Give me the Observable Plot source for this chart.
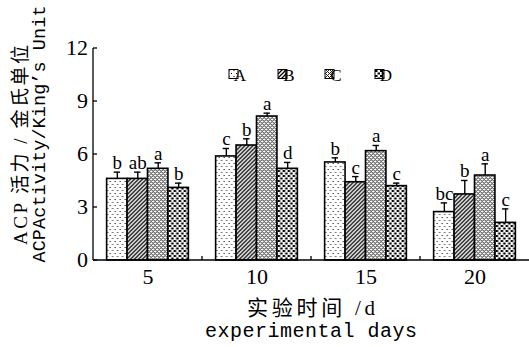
<!DOCTYPE html>
<html><head><meta charset="utf-8">
<script src="https://cdn.jsdelivr.net/npm/d3@7"></script>
<script src="https://cdn.jsdelivr.net/npm/@observablehq/plot@0.6"></script>
<style>body{margin:0;background:#fff}</style>
</head><body><div id="chart"></div>
<script>
const days = ["5", "10", "15", "20"];
const series = ["A", "B", "C", "D"];
const valuesA = [4.62, 5.89, 5.55, 2.74];
const valuesB = [4.62, 6.51, 4.43, 3.74];
const valuesC = [5.19, 8.15, 6.19, 4.81];
const valuesD = [4.11, 5.19, 4.21, 2.13];
const errA = [0.38, 0.45, 0.26, 0.52];
const errB = [0.38, 0.38, 0.32, 0.79];
const errC = [0.34, 0.19, 0.32, 0.66];
const errD = [0.27, 0.36, 0.17, 0.79];
const lettersA = ["b", "c", "b", "bc"];
const lettersB = ["ab", "b", "c", "b"];
const lettersC = ["a", "a", "a", "a"];
const lettersD = ["b", "d", "c", "c"];
const yTicks = [0, 3, 6, 9, 12];
const yTitle1 = "ACP 活力 / 金氏单位";
const yTitle2 = "ACPActivity/King’s Unit";
const xTitle1 = "实验时间 /d";
const xTitle2 = "experimental days";

const vals = {A: valuesA, B: valuesB, C: valuesC, D: valuesD};
const errs = {A: errA, B: errB, C: errC, D: errD};
const lets = {A: lettersA, B: lettersB, C: lettersC, D: lettersD};
const rows = [];
days.forEach((d, i) => series.forEach(s => rows.push({day: d, series: s, value: vals[s][i], err: errs[s][i], letter: lets[s][i]})));

const W = 529, H = 347, mL = 93, mT = 48, mB = 87, mR = 0;
const patternIds = series.map(s => "pat" + s);
const serif = "'Liberation Serif', 'Noto Sans CJK SC', serif";
const mono = "'Liberation Mono', 'DejaVu Sans Mono', monospace";

const chart = Plot.plot({
  width: W, height: H, marginLeft: mL, marginRight: mR, marginTop: mT, marginBottom: mB,
  style: {fontFamily: serif, fontSize: "22px", background: "#fff", color: "#000", overflow: "visible"},
  facet: {data: rows, x: "day"},
  fx: {domain: days, paddingInner: 0.25, paddingOuter: 0.125, round: false, label: null, tickSize: 0, tickPadding: 8},
  x: {domain: series, padding: 0, round: false, axis: null},
  y: {domain: [0, 12], axis: null},
  color: {type: "ordinal", domain: series, range: patternIds.map(id => `url(#${id})`)},
  marks: [
    Plot.barY(rows, {x: "series", y: "value", fill: "series", stroke: "#000", strokeWidth: 1.6}),
    Plot.ruleX(rows, {x: "series", y1: "value", y2: d => d.value + d.err, stroke: "#000", strokeWidth: 1.4}),
    Plot.tickY(rows, {x: "series", y: d => d.value + d.err, stroke: "#000", strokeWidth: 1.4, insetLeft: 7, insetRight: 7}),
    Plot.text(rows, {x: "series", y: d => d.value + d.err, text: "letter", dy: -3, lineAnchor: "bottom", fontSize: 19})
  ]
});
document.getElementById("chart").appendChild(chart);

const svg = d3.select(chart);
const defs = svg.insert("defs", ":first-child");
// A: sparse dots
let p = defs.append("pattern").attr("id", "patA").attr("patternUnits", "userSpaceOnUse").attr("width", 5).attr("height", 6);
p.append("rect").attr("width", 5).attr("height", 6).attr("fill", "#fff");
p.append("rect").attr("x", 1).attr("y", 1).attr("width", 1).attr("height", 1).attr("fill", "#000");
p.append("rect").attr("x", 3.5).attr("y", 4).attr("width", 1).attr("height", 1).attr("fill", "#000");
// B: diagonal hatch
p = defs.append("pattern").attr("id", "patB").attr("patternUnits", "userSpaceOnUse").attr("width", 4).attr("height", 4);
p.append("rect").attr("width", 4).attr("height", 4).attr("fill", "#fff");
p.append("path").attr("d", "M-1,1L1,-1M0,4L4,0M3,5L5,3").attr("stroke", "#000").attr("stroke-width", 1.25);
// C: fine checker (lighter)
p = defs.append("pattern").attr("id", "patC").attr("patternUnits", "userSpaceOnUse").attr("width", 4).attr("height", 4);
p.append("rect").attr("width", 4).attr("height", 4).attr("fill", "#fff");
[[0,0],[2,0],[1,1],[0,2],[2,2],[3,3]].forEach(([x, y]) =>
  p.append("rect").attr("x", x).attr("y", y).attr("width", 1).attr("height", 1).attr("fill", "#222"));
// D: blobs
p = defs.append("pattern").attr("id", "patD").attr("patternUnits", "userSpaceOnUse").attr("width", 5).attr("height", 5);
p.append("rect").attr("width", 5).attr("height", 5).attr("fill", "#fff");
p.append("rect").attr("x", 0).attr("y", 0).attr("width", 2.5).attr("height", 2).attr("fill", "#000");
p.append("rect").attr("x", 2.5).attr("y", 2.5).attr("width", 2.5).attr("height", 2).attr("fill", "#000");

const y = chart.scale("y");
const fx = chart.scale("fx");
const y0 = y.apply(0);
const g = svg.append("g").attr("stroke", "#000").attr("stroke-width", 1.3);
g.append("line").attr("x1", mL).attr("x2", W).attr("y1", y0).attr("y2", y0);
g.append("line").attr("x1", mL).attr("x2", mL).attr("y1", y.apply(12)).attr("y2", y0);
yTicks.forEach(t => g.append("line").attr("x1", mL).attr("x2", mL + 4).attr("y1", y.apply(t)).attr("y2", y.apply(t)));
days.slice(0, -1).forEach(d => {
  const xx = fx.apply(d) + fx.bandwidth + (fx.step - fx.bandwidth) / 2;
  g.append("line").attr("x1", xx).attr("x2", xx).attr("y1", y0).attr("y2", y0 - 4);
});
const yl = svg.append("g").attr("font-family", serif).attr("font-size", 22).attr("text-anchor", "end");
yTicks.forEach(t => yl.append("text").attr("x", mL - 5).attr("y", y.apply(t)).attr("dy", "0.34em").text(t));

// legend
const legX = [229, 278, 325, 375];
const leg = svg.append("g");
series.forEach((s, i) => {
  leg.append("rect").attr("x", legX[i]).attr("y", 69.5).attr("width", 9).attr("height", 9)
    .attr("fill", `url(#${patternIds[i]})`).attr("stroke", "#000").attr("stroke-width", 1);
  leg.append("text").attr("x", legX[i] + 11).attr("y", 80.5).attr("font-size", 17).attr("font-family", serif).text(s);
});

// titles
svg.append("text").attr("transform", "translate(20,145) rotate(-90)").attr("text-anchor", "middle")
  .attr("dominant-baseline", "central").attr("font-size", 19).attr("font-family", serif)
  .attr("textLength", 200).attr("lengthAdjust", "spacing").text(yTitle1);
svg.append("text").attr("transform", "translate(40,134) rotate(-90)").attr("text-anchor", "middle")
  .attr("dominant-baseline", "central").attr("font-size", 18.5).attr("font-family", mono)
  .attr("textLength", 257).attr("lengthAdjust", "spacing").text(yTitle2);
svg.append("text").attr("x", 311).attr("y", 308).attr("text-anchor", "middle")
  .attr("dominant-baseline", "central").attr("font-size", 21).attr("font-family", serif)
  .attr("textLength", 128).attr("lengthAdjust", "spacing").text(xTitle1);
svg.append("text").attr("x", 311).attr("y", 337).attr("text-anchor", "middle")
  .attr("font-size", 20).attr("font-family", mono)
  .attr("textLength", 212).attr("lengthAdjust", "spacing").text(xTitle2);
</script></body></html>
